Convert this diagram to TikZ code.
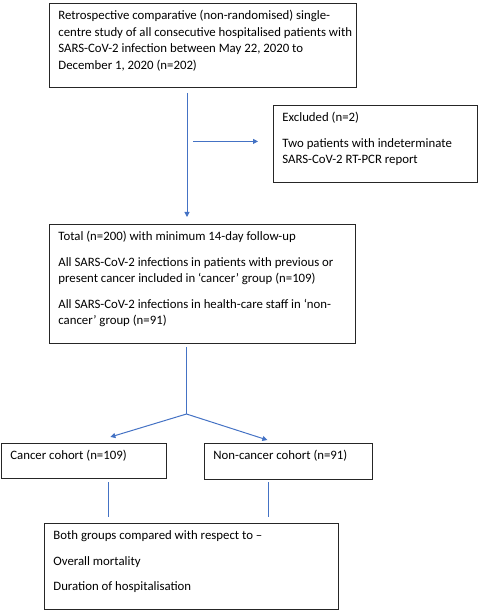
\documentclass[tikz,border=0pt]{standalone}
\usepackage{fontspec}
\setmainfont{Carlito}
\usepackage{tikz}
\usetikzlibrary{arrows.meta}
\definecolor{linkblue}{HTML}{4472C4}
% text of a box: width, height, paragraphs
\newcommand{\boxtext}[3]{\parbox[t][#2][t]{#1}{\fontsize{12.8}{16.5}\selectfont\raggedright\rightskip=-12pt plus 2em\vspace{4.8pt}\strut\setlength{\parskip}{9pt}#3}}

\begin{document}
\begin{tikzpicture}[
    x=1pt, y=-1pt,
    box/.style={rectangle, draw=black!85, line width=0.8pt, anchor=north west, inner xsep=9pt, inner ysep=0pt},
    arrow/.style={draw=linkblue, line width=1pt, -{Triangle[length=5pt,width=5pt]}},
    link/.style={draw=linkblue, line width=0.7pt}
]
\useasboundingbox (0,0) rectangle (480,612);

% STUDY AND EXCLUSION
\node[box] (study) at (49,3) {\boxtext{289pt}{84pt}{Retrospective comparative (non-randomised) single-\\centre study of all consecutive hospitalised patients with\\SARS-CoV-2 infection between May 22, 2020 to\\December 1, 2020 (n=202)}};
\node[box] (excl) at (273,105) {\boxtext{186pt}{77pt}{Excluded (n=2)\par Two patients with indeterminate\\SARS-CoV-2 RT-PCR report}};

% Total after exclusion
\node[box] (total) at (49,224) {\boxtext{288pt}{119pt}{Total (n=200) with minimum 14-day follow-up\par All SARS-CoV-2 infections in patients with previous or\\present cancer included in `cancer' group (n=109)\par All SARS-CoV-2 infections in health-care staff in `non-\\cancer' group (n=91)}};

% COHORTS
\node[box] (cancer) at (1,443) {\boxtext{147pt}{35pt}{Cancer cohort (n=109)}};
\node[box] (noncancer) at (204,443) {\boxtext{150pt}{36pt}{Non-cancer cohort (n=91)}};

% Comparison
\node[box] (compare) at (44,523) {\boxtext{276pt}{86pt}{Both groups compared with respect to --\par Overall mortality\par Duration of hospitalisation}};

% Main flow and exclusion branch
\coordinate (trunk) at (187,0);
\draw[arrow, shorten <=5pt, shorten >=7pt] (study.south -| trunk) -- (total.north -| trunk);
\draw[arrow, shorten <=6pt, shorten >=15pt] ([yshift=2.5pt]excl.west -| trunk) -- ([yshift=2.5pt]excl.west);

% Split into cohorts
\coordinate (fork) at (186.5,414);
\draw[link, shorten <=3pt] (total.south -| fork) -- (fork);
\draw[arrow] (fork) -- ([xshift=26.5pt,yshift=6pt]cancer.north);
\draw[arrow] (fork) -- ([xshift=-21pt,yshift=3pt]noncancer.north);

% Cohorts to comparison
\draw[link, shorten <=3.5pt, shorten >=6pt] ([xshift=24pt]cancer.south) -- ([xshift=24pt]cancer.south |- compare.north);
\draw[link, shorten <=2.5pt, shorten >=6pt] ([xshift=-20pt]noncancer.south) -- ([xshift=-20pt]noncancer.south |- compare.north);

\end{tikzpicture}
\end{document}
